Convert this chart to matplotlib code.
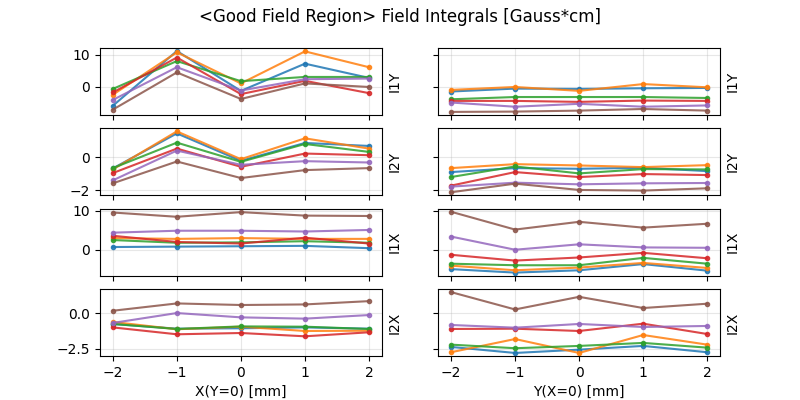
import matplotlib
matplotlib.use("Agg")
import matplotlib.pyplot as plt

# scan positions [mm]
positions = [-2, -1, 0, 1, 2]

# six scans per panel, order: blue, orange, green, red, purple, brown
i1y_x = [
    [-5.8, 11.1, -1.2, 7.2, 2.8],
    [-2.4, 10.7, 1.1, 11.0, 6.1],
    [-0.6, 8.0, 1.8, 3.1, 3.1],
    [-1.7, 9.1, -2.2, 1.9, -1.9],
    [-4.0, 6.1, -1.1, 2.4, 2.6],
    [-7.0, 4.5, -3.7, 1.1, 0.0],
]
i1y_y = [
    [-1.4, -0.5, -0.6, -0.4, -0.3],
    [-0.9, 0.0, -1.2, 0.9, -0.1],
    [-3.8, -3.1, -3.1, -3.1, -3.4],
    [-4.3, -4.3, -4.6, -4.2, -4.3],
    [-4.8, -6.1, -5.2, -6.1, -5.7],
    [-7.7, -7.6, -7.3, -6.8, -7.3],
]
i2y_x = [
    [-0.68, 1.44, -0.22, 0.86, 0.68],
    [-0.74, 1.56, -0.12, 1.14, 0.52],
    [-0.66, 0.88, -0.28, 0.80, 0.32],
    [-0.96, 0.52, -0.58, 0.22, 0.12],
    [-1.40, 0.40, -0.46, -0.24, -0.32],
    [-1.58, -0.26, -1.26, -0.78, -0.66],
]
i2y_y = [
    [-0.90, -0.66, -0.70, -0.64, -0.84],
    [-0.66, -0.42, -0.50, -0.60, -0.48],
    [-1.20, -0.56, -0.98, -0.72, -0.74],
    [-1.72, -0.90, -1.20, -1.02, -1.08],
    [-1.78, -1.54, -1.64, -1.58, -1.56],
    [-2.12, -1.60, -1.98, -2.02, -1.88],
]
i1x_x = [
    [0.7, 0.8, 0.9, 1.0, 0.4],
    [3.0, 2.8, 3.0, 2.8, 2.8],
    [2.5, 1.8, 1.9, 2.2, 1.8],
    [3.6, 2.0, 1.6, 3.1, 1.6],
    [4.4, 4.9, 4.9, 4.7, 5.1],
    [9.6, 8.5, 9.7, 8.8, 8.7],
]
i1x_y = [
    [-5.0, -5.9, -5.3, -3.7, -5.4],
    [-4.1, -5.3, -4.6, -3.4, -4.7],
    [-3.6, -4.0, -4.0, -2.1, -3.6],
    [-1.3, -2.8, -2.0, -0.8, -2.2],
    [3.4, 0.0, 1.4, 0.6, 0.5],
    [9.8, 5.2, 7.2, 5.7, 6.7],
]
i2x_x = [
    [-0.76, -1.09, -1.06, -1.00, -1.09],
    [-0.62, -1.13, -0.95, -1.25, -1.23],
    [-0.76, -1.11, -0.93, -0.95, -1.11],
    [-1.00, -1.48, -1.39, -1.62, -1.34],
    [-0.69, 0.00, -0.30, -0.39, -0.14],
    [0.16, 0.67, 0.56, 0.60, 0.83],
]
i2x_y = [
    [-2.36, -2.78, -2.55, -2.29, -2.73],
    [-2.73, -1.81, -2.78, -1.53, -2.20],
    [-2.20, -2.45, -2.29, -2.08, -2.41],
    [-1.11, -1.09, -1.25, -0.74, -1.46],
    [-0.83, -1.02, -0.76, -0.97, -0.90],
    [1.46, 0.25, 1.13, 0.35, 0.65],
]

row_labels = ["I1Y", "I2Y", "I1X", "I2X"]
panels = [
    (i1y_x, i1y_y),
    (i2y_x, i2y_y),
    (i1x_x, i1x_y),
    (i2x_x, i2x_y),
]

fig, axes = plt.subplots(4, 2, figsize=(8, 4), dpi=100, sharex="col", sharey="row")
fig.suptitle("<Good Field Region> Field Integrals [Gauss*cm]")

for row, (left_data, right_data) in enumerate(panels):
    for col, series in enumerate([left_data, right_data]):
        ax = axes[row, col]
        for vals in series:
            ax.plot(positions, vals, marker="o", markersize=3, alpha=0.85)
        ax.grid(True, alpha=0.3)
        ax.yaxis.set_label_position("right")
        ax.set_ylabel(row_labels[row])
        if col == 1:
            ax.tick_params(labelleft=False)

axes[3, 0].set_xlabel("X(Y=0) [mm]")
axes[3, 1].set_xlabel("Y(X=0) [mm]")

fig.savefig("out.png")
